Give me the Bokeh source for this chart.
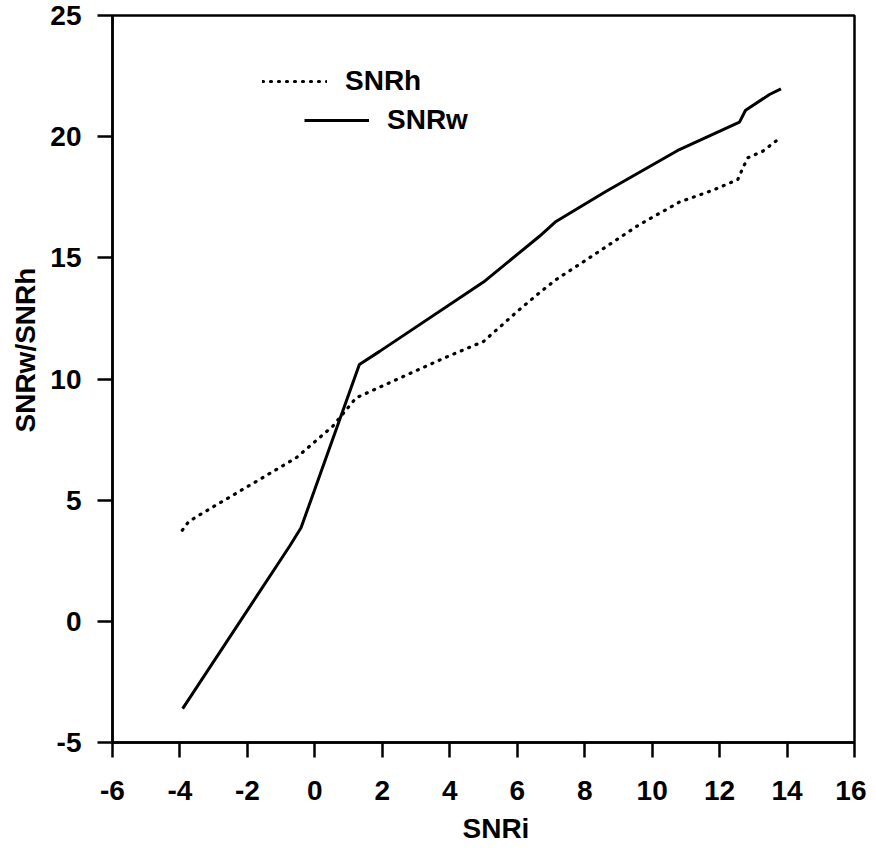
from bokeh.plotting import figure
from bokeh.models import Range1d, FixedTicker, Legend, LegendItem, Title
from bokeh.embed import file_html
from bokeh.resources import INLINE

# Data
snrw_x = [-3.92, -0.75, -0.41, -0.11, 1.32, 1.92, 5.0, 6.66, 7.15, 8.64, 10.81, 12.59, 12.77, 13.48, 13.82]
snrw_y = [-3.6, 3.1, 3.86, 5.03, 10.6, 11.14, 14.0, 15.89, 16.5, 17.75, 19.47, 20.6, 21.09, 21.74, 21.97]

snrh_x = [-3.93, -3.75, -3.52, -0.55, 0.53, 1.22, 3.84, 5.0, 6.07, 6.66, 7.15, 8.14, 9.62, 10.81, 11.8, 12.54, 12.69, 12.84, 13.28, 13.82]
snrh_y = [3.76, 4.1, 4.31, 6.75, 8.05, 9.22, 10.87, 11.55, 12.87, 13.56, 14.1, 15.0, 16.37, 17.3, 17.79, 18.23, 18.71, 19.13, 19.4, 19.98]

x_ticks = [-6, -4, -2, 0, 2, 4, 6, 8, 10, 12, 14, 16]
x_tick_labels = ["-6", "-4", "-2", "0", "2", "4", "6", "8", "10", "12", "14", "16"]
y_ticks = [-5, 0, 5, 10, 15, 20, 25]
y_tick_labels = ["-5", "0", "5", "10", "15", "20", "25"]

x_title = "SNRi"
y_title = "SNRw/SNRh"

FONT = "Liberation Sans"

p = figure(width=866, height=855,
           x_range=Range1d(-6, 16), y_range=Range1d(-5, 25),
           output_backend="svg", toolbar_location=None,
           min_border_left=112, min_border_right=12,
           min_border_top=15, min_border_bottom=113)

p.background_fill_color = "white"
p.border_fill_color = "white"
p.outline_line_color = "black"
p.outline_line_width = 2.5
p.outline_line_alpha = 1.0
p.grid.visible = False

snrw_r = p.line(snrw_x, snrw_y, line_color="black", line_width=3)
snrh_r = p.line(snrh_x, snrh_y, line_color="black", line_width=3.2,
                line_dash="1 7", line_cap="round")

for ax, ticks, labels in ((p.xaxis[0], x_ticks, x_tick_labels), (p.yaxis[0], y_ticks, y_tick_labels)):
    ax.ticker = FixedTicker(ticks=ticks)
    ax.major_label_overrides = {t: l for t, l in zip(ticks, labels)}
    ax.major_tick_in = 0
    ax.major_tick_out = 15
    ax.minor_tick_in = 0
    ax.minor_tick_out = 0
    ax.axis_line_width = 2.5
    ax.major_tick_line_width = 2.5
    ax.major_label_text_font = FONT
    ax.major_label_text_font_style = "bold"
    ax.major_label_text_font_size = "28px"
    ax.major_label_text_color = "black"

p.xaxis.major_label_standoff = 23
p.yaxis.major_label_standoff = 16

title_style = dict(text_font=FONT, text_font_style="bold", text_font_size="28px",
                   text_color="black", align="left")
p.add_layout(Title(text=x_title, offset=350, standoff=17, **title_style), "below")
p.add_layout(Title(text=y_title, offset=310, standoff=14, **title_style), "left")

def make_legend(label, renderer, loc):
    return Legend(items=[LegendItem(label=label, renderers=[renderer])],
                  location=loc, padding=0, margin=0, spacing=0,
                  glyph_width=65, glyph_height=30, label_height=30,
                  label_standoff=18, border_line_color=None,
                  background_fill_alpha=0,
                  label_text_font=FONT, label_text_font_style="bold",
                  label_text_font_size="28px", label_text_color="black")

p.add_layout(make_legend("SNRh", snrh_r, (150, 645)))
p.add_layout(make_legend("SNRw", snrw_r, (192, 606)))

open("out.html", "w").write(file_html(p, INLINE))
